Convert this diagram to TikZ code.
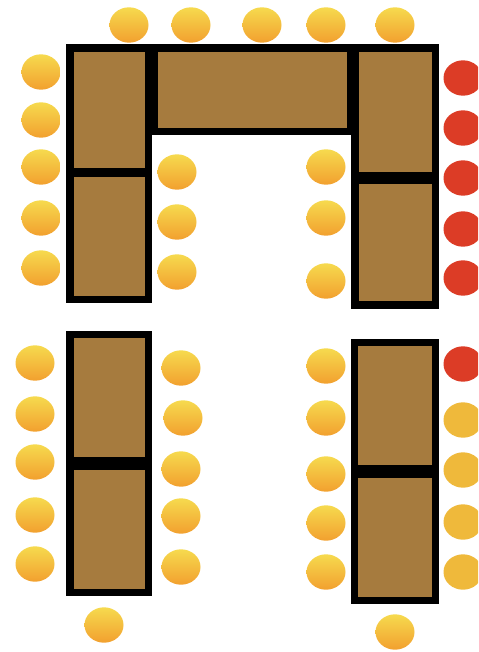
\documentclass[tikz,border=0pt]{standalone}
\definecolor{tablebrown}{HTML}{A67B3E}
\definecolor{seattop}{HTML}{F6DA4E}
\definecolor{seatbottom}{HTML}{F2A02F}
\definecolor{seatred}{HTML}{DC3C26}
\definecolor{seatplain}{HTML}{EFB93B}
\tikzset{
    tableframe/.style={fill=black},
    tabletop/.style={fill=tablebrown},
    seatshade/.style={top color=seattop, bottom color=seatbottom},
}
\begin{document}
\begin{tikzpicture}[x=0.02cm, y=-0.02cm]
    \clip (0,0) rectangle (478,652);

    % Black frames
    \fill[tableframe] (66,44) rectangle (152,303);
    \fill[tableframe] (152,44) rectangle (351,135);
    \fill[tableframe] (351,44) rectangle (439,309);
    \fill[tableframe] (66,331) rectangle (152,596);
    \fill[tableframe] (351,339) rectangle (439,604);

    % Table tops
    \foreach \xa/\ya/\xb/\yb in {74/52/145/168, 74/177/145/296, 158/52/347/128,
        359/52/432/172, 359/184/432/301, 74/338/145/457, 74/470/145/589,
        358/346/432/465, 358/478/432/597}
        \fill[tabletop] (\xa,\ya) rectangle (\xb,\yb);

    % Shaded seats
    \foreach \x/\y in {129/25, 191/25, 262/25, 326/25, 395/25,
        41/72, 41/120, 41/167, 41/218, 41/268,
        177/172, 177/222, 177/272,
        326/167, 326/218, 326/281,
        35/363, 35/414, 35/462, 35/515, 35/564,
        181/368, 183/418, 181/469, 181/516, 181/567,
        326/366, 326/418, 326/474, 326/523, 326/572,
        104/625, 395/632}
        \shade[seatshade] (\x,\y) ellipse [x radius=19.5, y radius=17.7];

    % Red seats
    \foreach \x/\y in {463/78, 463/128, 463/178, 463/229, 463/278, 463/364}
        \fill[seatred] (\x,\y) ellipse [x radius=19.5, y radius=17.7];

    % Plain seats
    \foreach \x/\y in {463/420, 463/470, 463/522, 463/572}
        \fill[seatplain] (\x,\y) ellipse [x radius=19.5, y radius=17.7];
\end{tikzpicture}
\end{document}
